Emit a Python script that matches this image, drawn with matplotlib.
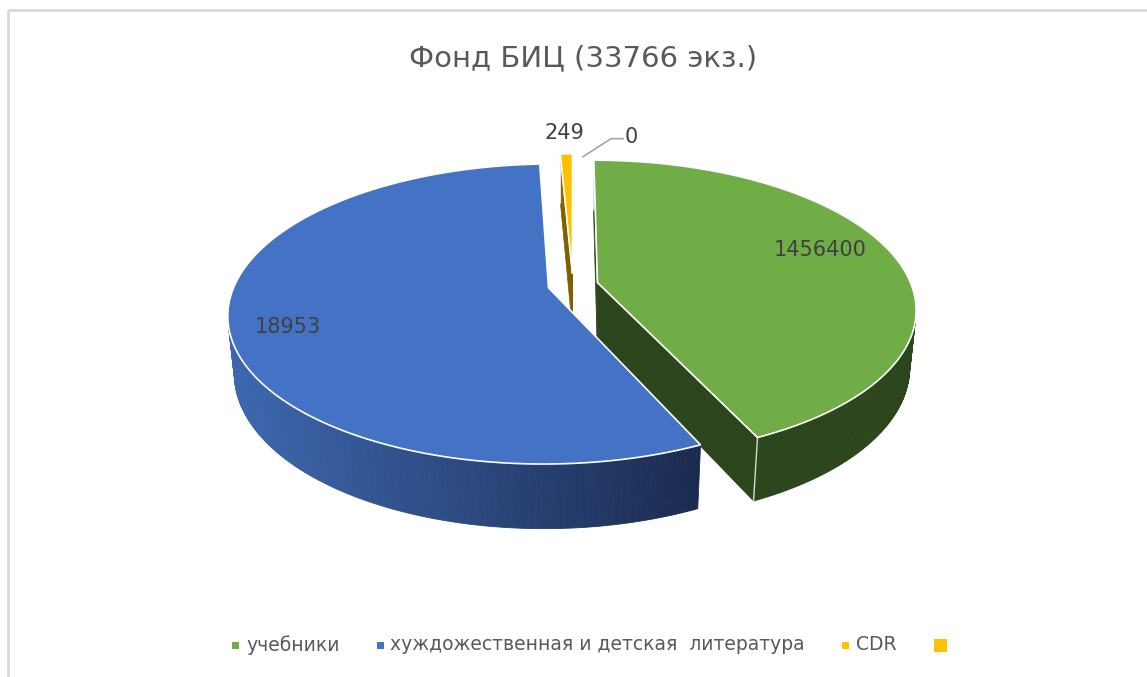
import matplotlib.pyplot as plt
import matplotlib.colors as mcolors
from matplotlib.patches import Polygon
import numpy as np

# данные
categories = ['учебники', 'хуждожественная и детская  литература', 'CDR', '']
values = [14564, 18953, 249, 0]
value_labels = ['1456400', '18953', '249', '0']
title = 'Фонд БИЦ (33766 экз.)'

top_colors = ['#70AD47', '#4472C4', '#FFC000', '#FFC000']
side_colors = [('#2E4A1E', '#2B451C'), ('#3D66AE', '#1B2B50'), ('#7F6000', '#7F6000'), ('#7F6000', '#7F6000')]

plt.rcParams['font.family'] = ['DejaVu Sans']

W, H = 1147, 677
fig = plt.figure(figsize=(W / 100, H / 100), dpi=100)
ax = fig.add_axes([0, 0, 1, 1])
ax.set_xlim(0, W)
ax.set_ylim(H, 0)
ax.axis('off')

# параметры "3D" проекции (в пикселях)
cx, cy = 573, 285
tilt = np.radians(27.4)
D = 5.09
f = 1598
thick = 0.207
explode = 0.08
cam = np.array([0.0, -D * np.cos(tilt), D * np.sin(tilt)])


def proj(x, y, z):
    yc = y * np.sin(tilt) + z * np.cos(tilt)
    zc = D + y * np.cos(tilt) - z * np.sin(tilt)
    return cx + f * x / zc, cy - f * yc / zc


def rim(th, off, z, r=1.0):
    return proj(off[0] + r * np.sin(th), off[1] + r * np.cos(th), z)


vals = np.array(values, dtype=float)
ends = np.cumsum(vals) / vals.sum() * 2 * np.pi
starts = ends - vals / vals.sum() * 2 * np.pi
mids = (starts + ends) / 2
offsets = [explode * np.array([np.sin(m), np.cos(m)]) for m in mids]

# боковые стенки: дальние секторы рисуем первыми
order = sorted(range(len(values)), key=lambda i: -np.cos(mids[i]))
for i in order:
    if vals[i] == 0:
        continue
    off = offsets[i]
    t0, t1 = starts[i], ends[i]
    c_left, c_right = side_colors[i]
    apex = np.array([off[0], off[1], 0.0])
    # радиальные стенки
    for th, n in [(t0, (-np.cos(t0), np.sin(t0))), (t1, (np.cos(t1), -np.sin(t1)))]:
        if np.dot([n[0], n[1], 0], cam - apex) <= 0:
            continue
        pts = [proj(off[0], off[1], 0), rim(th, off, 0), rim(th, off, -thick), proj(off[0], off[1], -thick)]
        ax.add_patch(Polygon(pts, closed=True, facecolor=c_right, edgecolor=c_right, lw=0.5, zorder=2))
        ax.add_patch(Polygon(pts[:3], closed=False, fill=False, edgecolor='white', lw=1.0, alpha=0.8, zorder=2.1))
    # внешняя стенка
    ths = np.linspace(t0, t1, 300)
    vis = []
    for th in ths:
        p = np.array([off[0] + np.sin(th), off[1] + np.cos(th), 0.0])
        vis.append(np.dot([np.sin(th), np.cos(th), 0], cam - p) > 0)
    cmap = mcolors.LinearSegmentedColormap.from_list('s', [c_left, c_right])
    for k in range(len(ths) - 1):
        if not (vis[k] and vis[k + 1]):
            continue
        a, b = ths[k], ths[k + 1]
        pts = [rim(a, off, 0), rim(b, off, 0), rim(b, off, -thick), rim(a, off, -thick)]
        xm = (pts[0][0] - 236) / (700 - 236)
        col = cmap(np.clip(xm, 0, 1))
        ax.add_patch(Polygon(pts, closed=True, facecolor=col, edgecolor=col, lw=0.6, zorder=2))

# верхние грани
for i in range(len(values)):
    if vals[i] == 0:
        continue
    off = offsets[i]
    ths = np.linspace(starts[i], ends[i], 200)
    pts = [proj(off[0], off[1], 0)] + [rim(th, off, 0) for th in ths]
    ax.add_patch(Polygon(pts, closed=True, facecolor=top_colors[i], edgecolor='white', lw=1.2, zorder=3))

# подписи данных
lab_r = [0.75, 0.82]
lab_dy = [-10, 10]
lab_kw = dict(color='#404040', fontsize=15, zorder=5)
for i in range(2):
    off = offsets[i]
    x, y = rim(mids[i], off, 0, r=lab_r[i])
    ax.text(x, y + lab_dy[i], value_labels[i], ha='center', va='center', **lab_kw)

# маленькие секторы: подписи снаружи
x2, y2 = rim(mids[2], offsets[2], 0)
ax.text(x2 - 2, y2 - 21, value_labels[2], ha='center', va='center', **lab_kw)
x3, y3 = rim(mids[3], offsets[3], 0)
ax.plot([x3 + 10, x3 + 38, x3 + 50], [y3 + 3, y3 - 15, y3 - 15], color='#A6A6A6', lw=1.2, zorder=4)
ax.text(x3 + 52, y3 - 17, value_labels[3], ha='left', va='center', **lab_kw)

# заголовок
ax.text(W / 2 + 10, 58, title, ha='center', va='center', fontsize=21, color='#595959')

# легенда
fig.canvas.draw()
renderer = fig.canvas.get_renderer()
x = 232
ly = 645
for i, name in enumerate(categories):
    size = 7 if name else 13
    ax.add_patch(plt.Rectangle((x, ly - size / 2), size, size, facecolor=top_colors[i], edgecolor='none', zorder=5))
    x += size + 7
    if name:
        t = ax.text(x, ly, name, ha='left', va='center', fontsize=13.5, color='#595959')
        bb = t.get_window_extent(renderer)
        x += bb.width + 37

# рамка
ax.plot([8, 8], [10, H], color='#D9D9D9', lw=2, solid_capstyle='butt')
ax.plot([8, W], [10, 10], color='#D9D9D9', lw=2, solid_capstyle='butt')

fig.savefig('out.png', dpi=100)
